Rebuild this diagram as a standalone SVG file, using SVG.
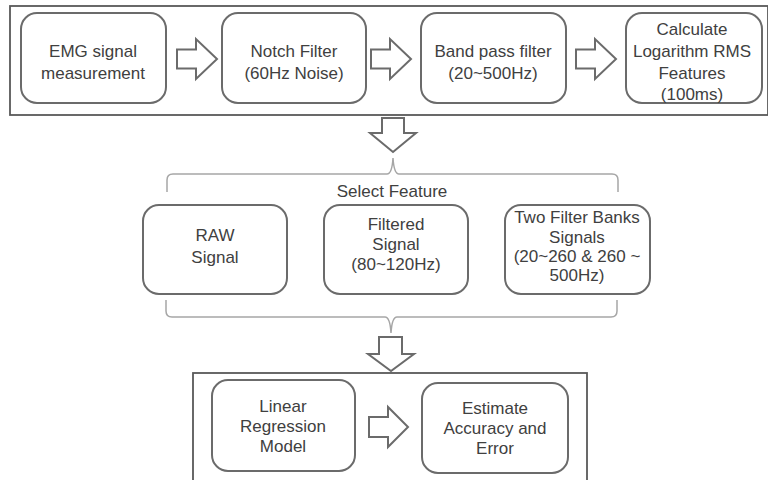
<svg xmlns="http://www.w3.org/2000/svg" width="768" height="480" viewBox="0 0 768 480">
<style>
.frame{fill:none;stroke:#595959;stroke-width:1.8}
.node{fill:#fff;stroke:#6b6b6b;stroke-width:2}
.arr{fill:#fff;stroke:#6b6b6b;stroke-width:2;stroke-linejoin:miter}
.brace{fill:none;stroke:#a6a6a6;stroke-width:1.5}
text{font-family:"Liberation Sans",Arial,sans-serif;font-size:17px;fill:#404040;text-anchor:middle}
</style>
<rect width="768" height="480" fill="#fff"/>
<rect class="frame" x="10" y="6" width="758" height="109"/>
<rect class="frame" x="193" y="373" width="394" height="120"/>
<g id="n1"><rect class="node" x="21" y="13" width="145" height="90" rx="16"/><text x="93" y="57">EMG signal</text><text x="93" y="79">measurement</text></g>
<g id="n2"><rect class="node" x="222" y="13" width="144" height="90" rx="16"/><text x="294" y="57">Notch Filter</text><text x="294" y="79">(60Hz Noise)</text></g>
<g id="n3"><rect class="node" x="421" y="13" width="145" height="90" rx="16"/><text x="493" y="57">Band pass filter</text><text x="493" y="79">(20~500Hz)</text></g>
<g id="n4"><rect class="node" x="626" y="13" width="136" height="90" rx="16"/><text x="692" y="35">Calculate</text><text x="692" y="57">Logarithm RMS</text><text x="692" y="79">Features</text><text x="692" y="100">(100ms)</text></g>
<g id="sel"><text x="392" y="197">Select Feature</text></g>
<g id="n5"><rect class="node" x="143" y="205" width="144" height="89" rx="16"/><text x="215" y="241">RAW</text><text x="215" y="263">Signal</text></g>
<g id="n6"><rect class="node" x="324" y="205" width="144" height="89" rx="16"/><text x="396" y="230">Filtered</text><text x="396" y="250">Signal</text><text x="396" y="270">(80~120Hz)</text></g>
<g id="n7"><rect class="node" x="505" y="205" width="145" height="89" rx="16"/><text x="577" y="223">Two Filter Banks</text><text x="577" y="243">Signals</text><text x="577" y="262">(20~260 &amp; 260 ~</text><text x="577" y="281">500Hz)</text></g>
<g id="n8"><rect class="node" x="212" y="380" width="143" height="91" rx="16"/><text x="283" y="412">Linear</text><text x="283" y="432">Regression</text><text x="283" y="452">Model</text></g>
<g id="n9"><rect class="node" x="422" y="383" width="146" height="90" rx="16"/><text x="495" y="414">Estimate</text><text x="495" y="434">Accuracy and</text><text x="495" y="454">Error</text></g>
<g id="connectors">
<path class="arr" d="M177,49.5 H196 V39 L217,59 L196,79 V68.5 H177 Z"/>
<path class="arr" d="M371,49.5 H390 V39 L411,59 L390,79 V68.5 H371 Z"/>
<path class="arr" d="M576,49.5 H595 V39 L616,59 L595,79 V68.5 H576 Z"/>
<path class="arr" d="M382,118 H404 V133 H416 L393,152 L370,133 H382 Z"/>
<path class="arr" d="M379,337 H402 V354 H414 L391,371 L368,354 H379 Z"/>
<path class="arr" d="M369,417 H388 V407 L408,427 L388,447 V437 H369 Z"/>
<path class="brace" d="M167,192 V180 Q167,174 173,174 H387 Q392,174 393,158 Q394,174 399,174 H612 Q618,174 618,180 V192"/>
<path class="brace" d="M166,300 V311 Q166,317 172,317 H385 Q390,317 391,333 Q392,317 397,317 H611 Q617,317 617,311 V300"/>
</g>
</svg>
